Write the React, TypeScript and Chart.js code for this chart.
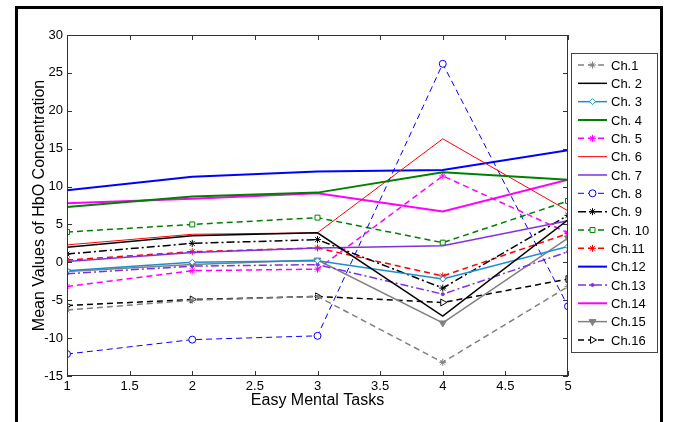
import React, { useEffect, useRef } from "react";
import { Chart, registerables } from "chart.js";
import { drawPoint } from "chart.js/helpers";

Chart.register(...registerables);

const tasks = [1, 2, 3, 4, 5];
const xTicks = [1, 1.5, 2, 2.5, 3, 3.5, 4, 4.5, 5];
const yTicks = [-15, -10, -5, 0, 5, 10, 15, 20, 25, 30];

const ch1 = [-6.3, -5.0, -4.5, -13.2, -3.2];
const ch2 = [2.0, 3.5, 3.9, -7.1, 5.6];
const ch3 = [-1.1, 0.0, 0.2, -2.2, 2.1];
const ch4 = [7.3, 8.7, 9.2, 11.9, 10.9];
const ch5 = [-3.2, -1.1, -0.9, 11.4, 3.9];
const ch6 = [2.3, 3.7, 3.9, 16.3, 6.8];
const ch7 = [0.1, 1.3, 1.9, 2.2, 5.5];
const ch8 = [-12.1, -10.2, -9.7, 26.2, -5.8];
const ch9 = [1.1, 2.5, 3.0, -3.4, 6.2];
const ch10 = [4.0, 5.0, 5.9, 2.6, 8.1];
const ch11 = [0.3, 1.4, 1.9, -1.8, 3.8];
const ch12 = [9.5, 11.3, 12.0, 12.2, 14.8];
const ch13 = [-1.5, -0.5, -0.3, -4.2, 1.4];
const ch14 = [7.8, 8.4, 9.1, 6.7, 10.9];
const ch15 = [-1.2, -0.3, 0.3, -8.0, 3.2];
const ch16 = [-5.7, -4.9, -4.5, -5.3, -2.2];

const labels = ["Ch.1", "Ch. 2", "Ch. 3", "Ch. 4", "Ch. 5", "Ch. 6", "Ch. 7", "Ch. 8", "Ch. 9", "Ch. 10", "Ch.11", "Ch.12", "Ch.13", "Ch.14", "Ch.15", "Ch.16"];
const series = [ch1, ch2, ch3, ch4, ch5, ch6, ch7, ch8, ch9, ch10, ch11, ch12, ch13, ch14, ch15, ch16];

const DASH = [6, 4];
const DASHDOT = [8, 3, 2, 3];
const FONT = "'Liberation Sans', Arial, sans-serif";

type Style = { color: string; width: number; dash: number[]; point: any; radius: number; rotation?: number; fill?: string };
const styles: Style[] = [
  { color: "#808080", width: 1.5, dash: DASH, point: "star", radius: 3.5 },
  { color: "#000000", width: 1.5, dash: [], point: false, radius: 0 },
  { color: "#1a8fd0", width: 1.5, dash: [], point: "rectRot", radius: 3, fill: "#ffffff" },
  { color: "#008000", width: 2, dash: [], point: false, radius: 0 },
  { color: "#ff00ff", width: 1.5, dash: DASH, point: "star", radius: 3.5 },
  { color: "#ff0000", width: 1, dash: [], point: false, radius: 0 },
  { color: "#8030e0", width: 1.5, dash: [], point: false, radius: 0 },
  { color: "#0000ff", width: 1, dash: DASH, point: "circle", radius: 3.5, fill: "#ffffff" },
  { color: "#000000", width: 1.5, dash: DASHDOT, point: "star", radius: 3.5 },
  { color: "#008000", width: 1.5, dash: DASH, point: "rect", radius: 3.5, fill: "#ffffff" },
  { color: "#ff0000", width: 1.5, dash: DASH, point: "star", radius: 3.5 },
  { color: "#0000ff", width: 2, dash: [], point: false, radius: 0 },
  { color: "#8030e0", width: 1.5, dash: DASHDOT, point: "circle", radius: 1.5, fill: "#8030e0" },
  { color: "#ff00ff", width: 2, dash: [], point: false, radius: 0 },
  { color: "#808080", width: 1.5, dash: [], point: "triangle", radius: 4, rotation: 180, fill: "#808080" },
  { color: "#000000", width: 1.5, dash: DASH, point: "triangle", radius: 4, rotation: 90, fill: "#ffffff" },
];

const framePlugin = {
  id: "matlabFrame",
  afterDatasetsDraw(chart: any) {
    const { ctx, chartArea, scales } = chart;
    const { left, right, top, bottom } = chartArea;
    ctx.save();
    ctx.strokeStyle = "#333";
    ctx.lineWidth = 1;
    ctx.setLineDash([]);
    ctx.strokeRect(left + 0.5, top + 0.5, right - left - 1, bottom - top - 1);
    ctx.beginPath();
    const tl = 5;
    xTicks.forEach((v) => {
      const px = Math.round(scales.x.getPixelForValue(v)) + 0.5;
      ctx.moveTo(px, bottom);
      ctx.lineTo(px, bottom - tl);
      ctx.moveTo(px, top);
      ctx.lineTo(px, top + tl);
    });
    yTicks.forEach((v) => {
      const py = Math.round(scales.y.getPixelForValue(v)) + 0.5;
      ctx.moveTo(left, py);
      ctx.lineTo(left + tl, py);
      ctx.moveTo(right, py);
      ctx.lineTo(right - tl, py);
    });
    ctx.stroke();

    // legend
    const lx = 571, ly = 53, lw = 86, lh = 299;
    ctx.fillStyle = "#ffffff";
    ctx.fillRect(lx, ly, lw, lh);
    ctx.strokeStyle = "#444";
    ctx.strokeRect(lx + 0.5, ly + 0.5, lw, lh);
    ctx.font = "13px " + FONT;
    ctx.textBaseline = "middle";
    ctx.textAlign = "left";
    labels.forEach((lab, i) => {
      const st = styles[i];
      const y = 65 + i * 18.33;
      ctx.save();
      ctx.strokeStyle = st.color;
      ctx.lineWidth = st.width;
      ctx.setLineDash(st.dash);
      ctx.beginPath();
      ctx.moveTo(578, y);
      ctx.lineTo(607, y);
      ctx.stroke();
      ctx.setLineDash([]);
      if (st.point) {
        ctx.fillStyle = st.fill || st.color;
        ctx.strokeStyle = st.color;
        ctx.lineWidth = 1;
        drawPoint(ctx, { pointStyle: st.point, radius: st.radius, rotation: st.rotation || 0, borderWidth: 1 }, 592.5, y);
      }
      ctx.restore();
      ctx.fillStyle = "#000";
      ctx.fillText(lab, 611, y + 1);
    });

    // outer figure frame
    ctx.strokeStyle = "#000";
    ctx.lineWidth = 3;
    ctx.beginPath();
    ctx.moveTo(16.5, 440);
    ctx.lineTo(16.5, 7.5);
    ctx.lineTo(661.5, 7.5);
    ctx.lineTo(661.5, 440);
    ctx.stroke();
    ctx.restore();
  },
};

export default function App() {
  const ref = useRef<HTMLCanvasElement | null>(null);
  useEffect(() => {
    if (!ref.current) return;
    const datasets = series.map((vals, i) => {
      const st = styles[i];
      return {
        label: labels[i],
        data: tasks.map((t, j) => ({ x: t, y: vals[j] })),
        borderColor: st.color,
        backgroundColor: st.fill || st.color,
        borderWidth: st.width,
        borderDash: st.dash,
        pointStyle: st.point,
        pointRadius: st.radius,
        pointRotation: st.rotation || 0,
        pointBorderColor: st.color,
        pointBackgroundColor: st.fill || st.color,
        pointBorderWidth: 1,
        tension: 0,
        fill: false,
      };
    });
    const chart = new Chart(ref.current, {
      type: "line",
      data: { datasets },
      options: {
        animation: false,
        responsive: false,
        maintainAspectRatio: false,
        layout: { padding: { left: 0, top: 35, right: 109, bottom: 0 } },
        plugins: { legend: { display: false }, tooltip: { enabled: false } },
        scales: {
          x: {
            type: "linear",
            min: 1,
            max: 5,
            afterFit: (s: any) => { s.height = 46; },
            afterBuildTicks: (s: any) => { s.ticks = xTicks.map((v) => ({ value: v })); },
            grid: { display: false, drawTicks: false },
            border: { display: false },
            ticks: { color: "#000", padding: 3, font: { family: FONT, size: 13 }, maxRotation: 0, autoSkip: false, callback: (v: any) => String(v) },
            title: { display: true, text: "Easy Mental Tasks", color: "#000", font: { family: FONT, size: 16 }, padding: { top: 0, bottom: 12 } },
          },
          y: {
            type: "linear",
            min: -15,
            max: 30,
            afterFit: (s: any) => { s.width = 67; },
            afterBuildTicks: (s: any) => { s.ticks = yTicks.map((v) => ({ value: v })); },
            grid: { display: false, drawTicks: false },
            border: { display: false },
            ticks: { color: "#000", padding: 4, font: { family: FONT, size: 13 }, autoSkip: false, callback: (v: any) => String(v) },
            title: { display: true, text: "Mean Values of HbO Concentration", color: "#000", font: { family: FONT, size: 16 }, padding: { top: 30, bottom: 0 } },
          },
        },
      },
      plugins: [framePlugin],
    });
    return () => chart.destroy();
  }, []);
  return (
    <div style={{ position: "fixed", left: 0, top: 0, width: 677, height: 422, background: "#fff" }}>
      <canvas ref={ref} width={677} height={422} style={{ width: 677, height: 422, display: "block" }} />
    </div>
  );
}
